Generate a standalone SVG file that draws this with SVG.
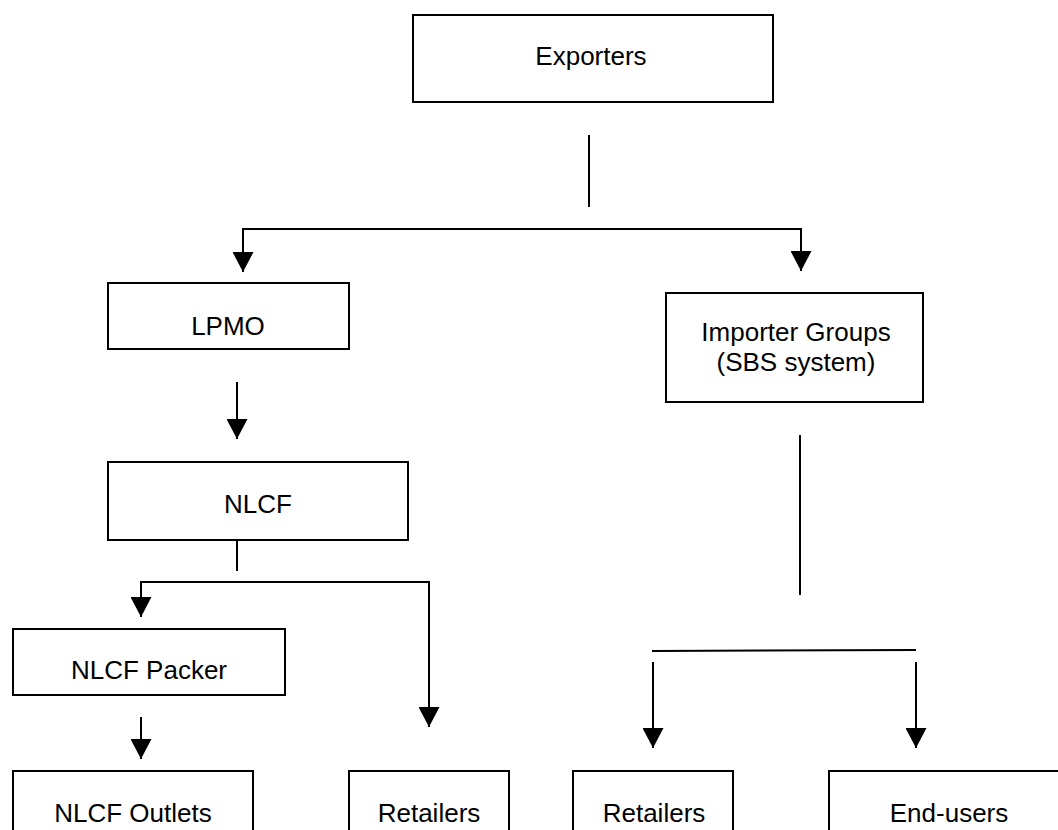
<svg xmlns="http://www.w3.org/2000/svg" width="1058" height="830" viewBox="0 0 1058 830">
  <style>
    .box { fill: #ffffff; stroke: #000000; stroke-width: 2; }
    .lbl { font-family: "Liberation Sans", Arial, sans-serif; font-size: 26px; fill: #000000; text-anchor: middle; }
    .ln { fill: none; stroke: #000000; stroke-width: 2; }
    .arr { fill: none; stroke: #000000; stroke-width: 2; marker-end: url(#ah); }
  </style>
  <defs>
    <marker id="ah" markerUnits="userSpaceOnUse" viewBox="0 -10.5 20 21" refX="20" refY="0" markerWidth="20" markerHeight="21" orient="auto">
      <path d="M0,-10.5 L20,0 L0,10.5 z" fill="#000000"/>
    </marker>
  </defs>
  <rect width="1058" height="830" fill="#ffffff"/>

  <g id="connectors">
    <line class="ln" x1="589" y1="135" x2="589" y2="207"/>
    <line class="ln" x1="243" y1="229" x2="801" y2="229"/>
    <line class="arr" x1="243" y1="228" x2="243" y2="272"/>
    <line class="arr" x1="801" y1="228" x2="801" y2="271"/>
    <line class="arr" x1="237" y1="382" x2="237" y2="439"/>
    <line class="ln" x1="237" y1="540" x2="237" y2="571"/>
    <line class="ln" x1="141" y1="582" x2="429" y2="582"/>
    <line class="arr" x1="141" y1="581" x2="141" y2="617"/>
    <line class="arr" x1="429" y1="581" x2="429" y2="727"/>
    <line class="arr" x1="141" y1="717" x2="141" y2="759"/>
    <line class="ln" x1="800" y1="435" x2="800" y2="595"/>
    <line class="ln" x1="652" y1="651" x2="916" y2="650"/>
    <line class="arr" x1="653" y1="662" x2="653" y2="748"/>
    <line class="arr" x1="916" y1="662" x2="916" y2="748"/>
  </g>

  <g id="exporters">
    <rect class="box" x="413" y="15" width="360" height="87"/>
    <text class="lbl" x="591" y="65">Exporters</text>
  </g>
  <g id="lpmo">
    <rect class="box" x="108" y="283" width="241" height="66"/>
    <text class="lbl" x="228" y="335">LPMO</text>
  </g>
  <g id="importer-groups">
    <rect class="box" x="666" y="293" width="257" height="109"/>
    <text class="lbl" x="796" y="341">Importer Groups</text>
    <text class="lbl" x="796" y="371">(SBS system)</text>
  </g>
  <g id="nlcf">
    <rect class="box" x="108" y="462" width="300" height="78"/>
    <text class="lbl" x="258" y="513">NLCF</text>
  </g>
  <g id="nlcf-packer">
    <rect class="box" x="13" y="629" width="272" height="66"/>
    <text class="lbl" x="149" y="679">NLCF Packer</text>
  </g>
  <g id="nlcf-outlets">
    <rect class="box" x="13" y="771" width="240" height="80"/>
    <text class="lbl" x="133" y="822">NLCF Outlets</text>
  </g>
  <g id="retailers-left">
    <rect class="box" x="349" y="771" width="160" height="80"/>
    <text class="lbl" x="429" y="822">Retailers</text>
  </g>
  <g id="retailers-right">
    <rect class="box" x="573" y="771" width="160" height="80"/>
    <text class="lbl" x="654" y="822">Retailers</text>
  </g>
  <g id="end-users">
    <rect class="box" x="829" y="771" width="260" height="80"/>
    <text class="lbl" x="949" y="822">End-users</text>
  </g>
</svg>
